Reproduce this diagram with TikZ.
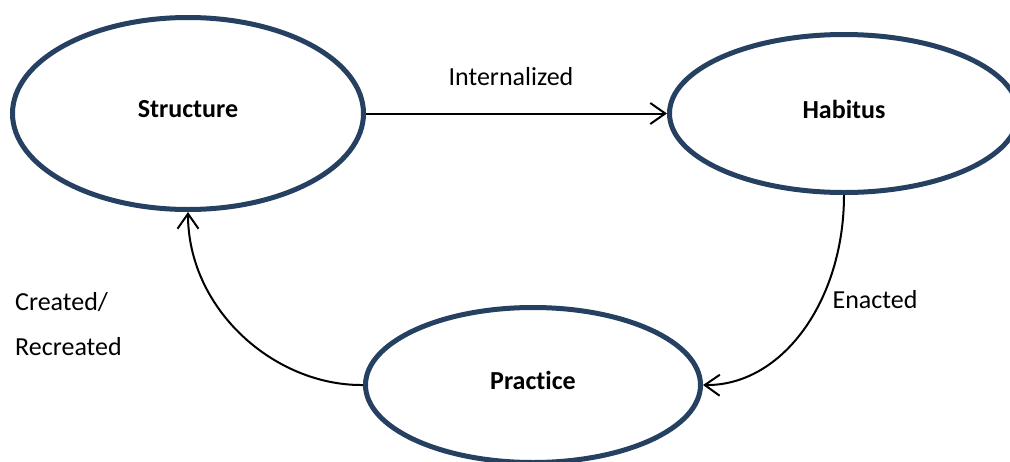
\documentclass[tikz,border=0pt]{standalone}
\usepackage{fontspec}
\setmainfont[Ligatures=NoCommon]{Carlito}
\usetikzlibrary{shapes.geometric,arrows.meta}
\definecolor{ringblue}{RGB}{38,64,97}
\begin{document}
\begin{tikzpicture}[x=1pt,y=-1pt,
  stage/.style={ellipse,draw=ringblue,line width=5pt,fill=white,inner sep=0pt,
    text depth=9pt,font=\fontsize{26}{30}\selectfont\bfseries},
  link/.style={draw=black,line width=2pt,-{Straight Barb[length=15pt,width=21pt,line width=2pt]}},
  tag/.style={font=\fontsize{26}{30}\selectfont,inner sep=0pt}]
  \useasboundingbox (0,0) rectangle (1010,461);
  \clip (0,0) rectangle (1010,461);

  % the three stages of the cycle
  \node[stage,minimum width=351pt,minimum height=192pt] (structure) at (188,113.5) {Structure};
  \node[stage,minimum width=349pt,minimum height=158pt] (habitus) at (844,113.5) {Habitus};
  \node[stage,minimum width=335pt,minimum height=155pt] (practice) at (533,385) {Practice};

  % connectors between stages
  \draw[link] (structure.east) -- (habitus.west);
  \draw[link] (habitus.south) .. controls (844,301) and (782,386) .. (practice.east);
  \draw[link] (practice.west) .. controls (275,386) and (188,310) .. (structure.south);

  % connector labels
  \node[tag] (lblint) at (511,77) {Internalized};
  \node[tag] (lblenact) at (875,300) {Enacted};
  \node[tag,anchor=west] (lblcre) at (15,302) {Created/};
  \node[tag,anchor=west] (lblrec) at (15,347) {Recreated};
\end{tikzpicture}
\end{document}
